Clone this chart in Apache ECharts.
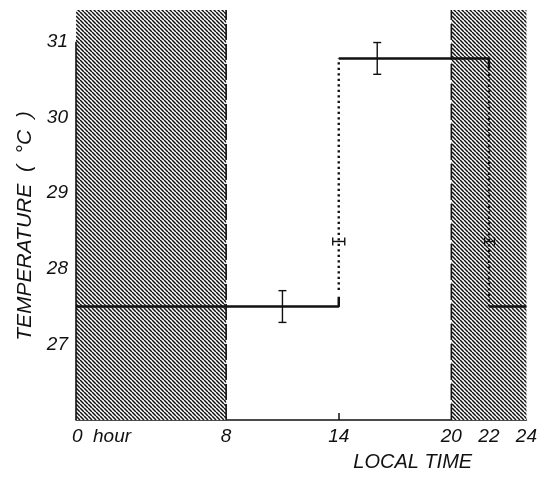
<!DOCTYPE html>
<html><head><meta charset="utf-8">
<script src="https://cdn.jsdelivr.net/npm/echarts@6/dist/echarts.min.js"></script>
<style>html,body{margin:0;padding:0;background:#fff}#c{width:540px;height:477px}</style>
</head><body><div id="c"></div>
<script>
// ---- data ----
const xTickLabels = [0, 8, 14, 20, 22, 24];
const xInnerTicks = [14, 22];
const yTickLabels = [27, 28, 29, 30, 31];
const nightPeriods = [[0, 8], [20, 24]];
const boundaryLines = [8, 20];
const solidSegments = [
  [[0, 27.5], [14, 27.5], [14, 27.63]],
  [[14, 30.78], [22, 30.78], [22, 30.65]],
  [[22, 27.5], [24, 27.5]]
];
const dottedSegments = [
  [[14, 27.72], [14, 30.78]],
  [[22, 30.65], [22, 27.5]]
];
const vErrorBars = [[11.0, 27.49, 27.29, 27.71], [16.05, 30.78, 30.57, 30.99]];
const hErrorBars = [[14.0, 28.36, 13.68, 14.32], [22.03, 28.36, 21.77, 22.3]];
const yMin = 26, yMax = 31.42, yAxisTop = 31;

// ---- hatch pattern ----
function hatch() {
  const s = 4;
  const c = document.createElement('canvas');
  c.width = s; c.height = s;
  const g = c.getContext('2d');
  g.fillStyle = '#fff'; g.fillRect(0, 0, s, s);
  g.strokeStyle = '#111'; g.lineWidth = 1.5;
  for (let k = -1; k <= 1; k++) {
    g.beginPath(); g.moveTo(0, k * s); g.lineTo(s, s + k * s); g.stroke();
  }
  return c;
}

const font = 'Liberation Sans';
const ink = '#111';
const series = [];

series.push({
  type: 'line', data: [], silent: true,
  markArea: {
    silent: true,
    itemStyle: { color: { image: hatch(), repeat: 'repeat' } },
    data: nightPeriods.map(p => [{ xAxis: p[0] }, { xAxis: p[1] }])
  }
});
boundaryLines.forEach(b => series.push({
  type: 'line', symbol: 'none', silent: true,
  data: [[b, yMin], [b, yMax]],
  lineStyle: { color: ink, width: 1.6, type: [16, 4] }
}));
series.push({
  type: 'line', symbol: 'none', silent: true,
  data: [[0, yMin], [0, yAxisTop]],
  lineStyle: { color: ink, width: 1.6 }
});
solidSegments.forEach(s => series.push({
  type: 'line', symbol: 'none', silent: true, data: s,
  lineStyle: { color: ink, width: 2.5 }
}));
dottedSegments.forEach(s => series.push({
  type: 'line', symbol: 'none', silent: true, data: s,
  lineStyle: { color: ink, width: 2.4, type: [2.2, 3.3] }
}));
series.push({
  type: 'custom', silent: true, data: vErrorBars,
  renderItem(params, api) {
    const x = api.value(0);
    const a = api.coord([x, api.value(2)]), b = api.coord([x, api.value(3)]);
    const w = 4, st = { stroke: ink, lineWidth: 1.4 };
    return { type: 'group', children: [
      { type: 'line', shape: { x1: a[0], y1: a[1], x2: b[0], y2: b[1] }, style: st },
      { type: 'line', shape: { x1: a[0] - w, y1: a[1], x2: a[0] + w, y2: a[1] }, style: st },
      { type: 'line', shape: { x1: b[0] - w, y1: b[1], x2: b[0] + w, y2: b[1] }, style: st }
    ]};
  }
});
series.push({
  type: 'custom', silent: true, data: hErrorBars,
  renderItem(params, api) {
    const y = api.value(1);
    const a = api.coord([api.value(2), y]), b = api.coord([api.value(3), y]);
    const h = 4, st = { stroke: ink, lineWidth: 1.4 };
    return { type: 'group', children: [
      { type: 'line', shape: { x1: a[0], y1: a[1], x2: b[0], y2: b[1] }, style: st },
      { type: 'line', shape: { x1: a[0], y1: a[1] - h, x2: a[0], y2: a[1] + h }, style: st },
      { type: 'line', shape: { x1: b[0], y1: b[1] - h, x2: b[0], y2: b[1] + h }, style: st }
    ]};
  }
});

const chart = echarts.init(document.getElementById('c'), null, { renderer: 'canvas' });
chart.setOption({
  animation: false,
  backgroundColor: '#fff',
  grid: { left: 76, right: 13, top: 10, bottom: 53, containLabel: false },
  xAxis: {
    type: 'value', min: 0, max: 24,
    name: 'LOCAL TIME', nameLocation: 'middle', nameGap: 32,
    nameTextStyle: { fontFamily: font, fontStyle: 'italic', fontSize: 20, color: ink, padding: [0, 0, 0, 223] },
    axisLine: { show: true, lineStyle: { color: ink, width: 1.6 } },
    axisTick: { show: true, inside: true, length: 7, customValues: xInnerTicks, lineStyle: { color: ink, width: 1.5 } },
    axisLabel: {
      customValues: xTickLabels, margin: 7, color: ink,
      fontFamily: font, fontStyle: 'italic', fontSize: 19,
      formatter: v => v === 0 ? '{z|0  hour}' : String(v),
      rich: { z: { fontFamily: font, fontStyle: 'italic', fontSize: 19, color: ink, padding: [0, 0, 0, 51] } }
    },
    splitLine: { show: false }
  },
  yAxis: {
    type: 'value', min: yMin, max: yMax,
    name: 'TEMPERATURE  (  °C  )', nameLocation: 'middle', nameGap: 40, nameRotate: 90,
    nameTextStyle: { fontFamily: font, fontStyle: 'italic', fontSize: 21, color: ink, padding: [0, 22, 0, 0] },
    axisLine: { show: false },
    axisTick: { show: true, inside: true, length: 5, customValues: yTickLabels, lineStyle: { color: ink, width: 1.4 } },
    axisLabel: { customValues: yTickLabels, margin: 8, color: ink, fontFamily: font, fontStyle: 'italic', fontSize: 19 },
    splitLine: { show: false }
  },
  series: series
});
</script>
</body></html>
